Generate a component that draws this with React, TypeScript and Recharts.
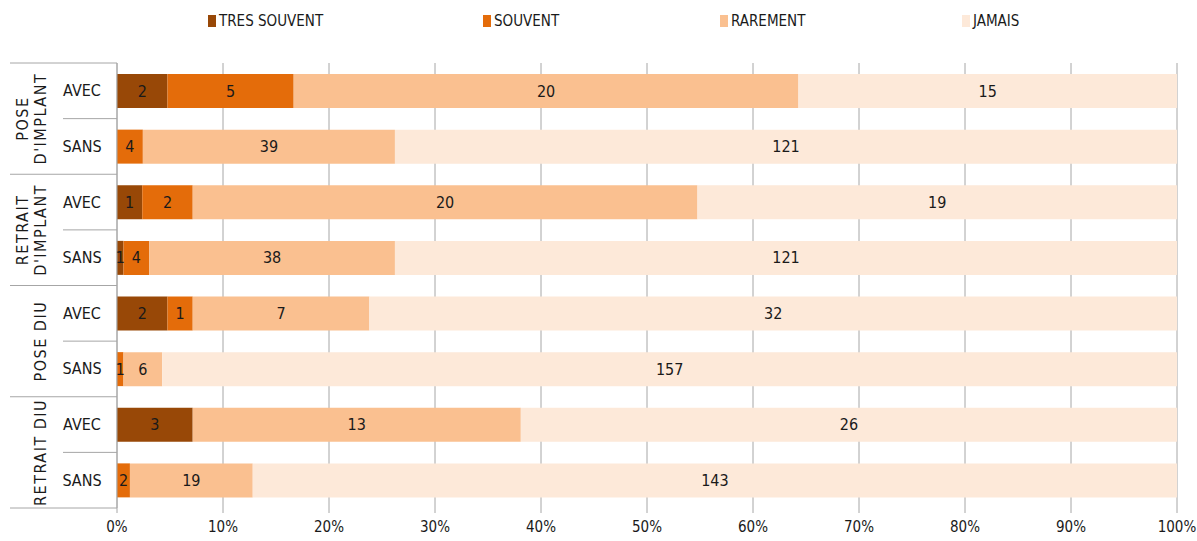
import { Bar, BarChart, CartesianGrid, LabelList, XAxis, YAxis } from "recharts";

const FONT = '"DejaVu Sans Condensed", "DejaVu Sans", sans-serif';

// one row per (act, with/without) pair, top to bottom
const groups = ["POSE\nD'IMPLANT", "RETRAIT\nD'IMPLANT", "POSE DIU", "RETRAIT DIU"];
const subLabels = ["AVEC", "SANS", "AVEC", "SANS", "AVEC", "SANS", "AVEC", "SANS"];

// raw counts per answer
const tresSouvent = [2, 0, 1, 1, 2, 0, 3, 0];
const souvent = [5, 4, 2, 4, 1, 1, 0, 2];
const rarement = [20, 39, 20, 38, 7, 6, 13, 19];
const jamais = [15, 121, 19, 121, 32, 157, 26, 143];

const xTicks = [0, 0.1, 0.2, 0.3, 0.4, 0.5, 0.6, 0.7, 0.8, 0.9, 1];

const series = [
  { key: "ts", label: "TRES SOUVENT", color: "#984807" },
  { key: "s", label: "SOUVENT", color: "#E46C0A" },
  { key: "r", label: "RAREMENT", color: "#FAC090" },
  { key: "j", label: "JAMAIS", color: "#FDE9D9" },
];

const rows = subLabels.map((sub, i) => ({
  row: `${i}-${sub}`,
  ts: tresSouvent[i],
  s: souvent[i],
  r: rarement[i],
  j: jamais[i],
}));

const W = 1197;
const H = 541;
const TOP = 63;
const BOTTOM = 33;
const AXIS_X = 117;
const STEP = (H - TOP - BOTTOM) / rows.length;
const GRID = "#a6a6a6";
const INK = "#1a1a1a";

/** AVEC/SANS label plus the bracket lines and the rotated group label. */
function RowTick(props: { y?: number; index?: number }) {
  const { y = 0, index = 0 } = props;
  const half = STEP / 2;
  const isFirst = index % 2 === 0;
  const isLast = index === rows.length - 1;
  const lines = isFirst ? groups[index / 2].split("\n") : [];
  const cx = 40;
  const cy = y + half;
  return (
    <g>
      <text
        x={82}
        y={y}
        textAnchor="middle"
        dominantBaseline="central"
        fontSize={16}
        fill={INK}
        fontFamily={FONT}
      >
        {subLabels[index]}
      </text>
      <line
        x1={isFirst ? 10 : 63}
        x2={AXIS_X}
        y1={y - half}
        y2={y - half}
        stroke={GRID}
      />
      {isLast && (
        <line x1={10} x2={AXIS_X} y1={y + half} y2={y + half} stroke={GRID} />
      )}
      {isFirst && (
        <text
          transform={`rotate(-90, ${cx}, ${cy})`}
          x={cx}
          y={cy}
          textAnchor="middle"
          fontSize={16}
          letterSpacing={1.5}
          fill={INK}
          fontFamily={FONT}
        >
          {lines.map((ln, k) => (
            <tspan
              key={k}
              x={cx}
              dy={k === 0 ? -(lines.length - 1) * 18 + 6 : 18}
            >
              {ln}
            </tspan>
          ))}
        </text>
      )}
    </g>
  );
}

/** Centered count label; zero slices are not labelled. */
function CountLabel(props: {
  x?: number | string;
  y?: number | string;
  width?: number | string;
  height?: number | string;
  value?: number | string;
}) {
  const { x = 0, y = 0, width = 0, height = 0, value } = props;
  if (!value || Number(value) === 0) return null;
  return (
    <text
      x={Number(x) + Number(width) / 2}
      y={Number(y) + Number(height) / 2}
      textAnchor="middle"
      dominantBaseline="central"
      fontSize={16}
      fill={INK}
      fontFamily={FONT}
    >
      {value}
    </text>
  );
}

const legendLeft = [208, 483, 720, 962];

export default function App() {
  return (
    <div
      style={{
        position: "absolute",
        left: 0,
        top: 0,
        width: W,
        height: H,
        background: "#fff",
        fontFamily: FONT,
      }}
    >
      {series.map((s, i) => (
        <div
          key={s.key}
          style={{
            position: "absolute",
            left: legendLeft[i],
            top: 12,
            display: "flex",
            alignItems: "center",
            gap: 3,
            fontSize: 15,
            color: INK,
          }}
        >
          <span
            style={{ width: 8, height: 12, background: s.color, display: "inline-block" }}
          />
          <span>{s.label}</span>
        </div>
      ))}
      <BarChart
        width={W}
        height={H}
        data={rows}
        layout="vertical"
        stackOffset="expand"
        barSize={34}
        margin={{ top: TOP, right: 20, left: 0, bottom: 3 }}
      >
        <CartesianGrid horizontal={false} stroke={GRID} />
        <XAxis
          type="number"
          domain={[0, 1]}
          ticks={xTicks}
          tickFormatter={(v) => `${Math.round(v * 100)}%`}
          axisLine={false}
          tickLine={{ stroke: GRID }}
          tickSize={5}
          tickMargin={8}
          height={30}
          tick={{ fontSize: 15, fill: INK, fontFamily: FONT }}
        />
        <YAxis
          type="category"
          dataKey="row"
          width={AXIS_X}
          axisLine={{ stroke: GRID }}
          tickLine={false}
          interval={0}
          tick={<RowTick />}
        />
        {series.map((s) => (
          <Bar
            key={s.key}
            dataKey={s.key}
            name={s.label}
            stackId="a"
            fill={s.color}
            isAnimationActive={false}
          >
            <LabelList dataKey={s.key} content={<CountLabel />} />
          </Bar>
        ))}
      </BarChart>
    </div>
  );
}
